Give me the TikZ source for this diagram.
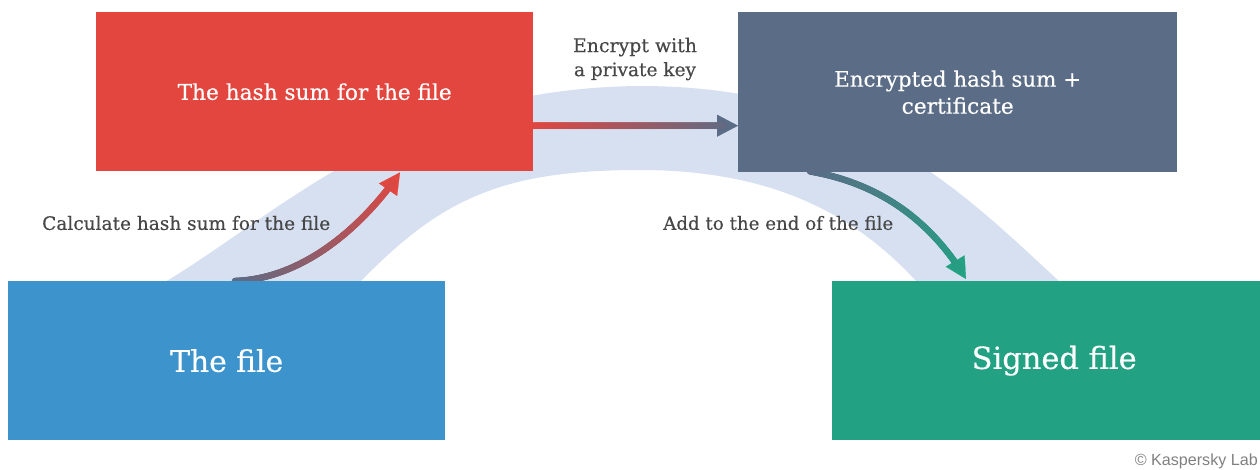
\documentclass[tikz,border=0pt]{standalone}
\usepackage{fontspec}
\setmainfont[FakeBold=0.4]{DejaVu Serif}
\newfontfamily\kfont{Liberation Sans}
\usetikzlibrary{decorations.markings,calc,backgrounds,arrows.meta}
\definecolor{cred}{HTML}{E2463F}
\definecolor{cslate}{HTML}{5B6C86}
\definecolor{cblue}{HTML}{3D94CD}
\definecolor{cgreen}{HTML}{23A183}
\definecolor{cband}{HTML}{D6E0F0}
\definecolor{ctext}{HTML}{474747}
\newcommand{\fitto}[2]{\resizebox{#1}{!}{#2}}
\tikzset{
  box/.style={draw=none, anchor=north west, text=white, inner sep=0pt, align=center},
  lbl/.style={text=ctext, inner sep=0pt, align=center},
  gradarrow/.style n args={2}{draw=#2, line width=0.2pt, -{Triangle[length=21pt,width=22pt]},
    postaction={decorate, decoration={markings,
    mark=between positions 0 and 0.93 step 0.6pt with {
      \pgfmathsetmacro\gpct{(\pgfkeysvalueof{/pgf/decoration/mark info/distance from start})/(\pgfdecoratedpathlength)*100}
      \fill[#2!\gpct!#1] (0,0) circle (3.3pt);
    }
  }}}
}
\begin{document}
\begin{tikzpicture}[x=1pt,y=-1pt]
\useasboundingbox (0,0) rectangle (1260,469);
% boxes
\node[box, fill=cred, minimum width=437pt, minimum height=159pt] (hash) at (96,12)
  {\fitto{274pt}{The hash sum for the file}};
\node[box, fill=cslate, minimum width=439pt, minimum height=160pt, font=\fontsize{20}{27}\selectfont] (enc) at (738,12)
  {\fitto{247pt}{Encrypted hash sum +}\\\fitto{112pt}{certificate}};
\node[box, fill=cblue, minimum width=437pt, minimum height=159pt] (file) at (8,281)
  {\fitto{113pt}{The file}};
\node[box, fill=cgreen, minimum width=428pt, minimum height=159pt] (signed) at (832,281)
  {\hspace*{16pt}\fitto{165pt}{Signed file}};
% labels
\node[lbl, anchor=west] (l1) at (42,223) {\fitto{288pt}{Calculate hash sum for the file}};
\node[lbl, font=\fontsize{15}{24}\selectfont] (l2) at (635,59) {\fitto{124pt}{Encrypt with}\\\fitto{122pt}{a private key}};
\node[lbl, anchor=west] (l3) at (663,223) {\fitto{230pt}{Add to the end of the file}};
\node[anchor=east, text=gray, inner sep=0pt] (copy) at (1258,461) {\kfont\fitto{123pt}{© Kaspersky Lab}};
\begin{pgfonlayer}{background}
  % band
  \fill[cband] (165,282) .. controls (285,210) and (400,88) .. (640,86)
     .. controls (860,86) and (960,190) .. (1060,282)
     -- (917,282) .. controls (860,220) and (780,170) .. (640,170)
     .. controls (500,170) and (440,200) .. (360,282) -- cycle;
  % arrows
  \path[gradarrow={cslate}{cred}] ($(file.north west)+(227,0)$) .. controls +(65,-2) and +(-40,58) .. ($(hash.south west)+(304,1)$);
  \coordinate (a2s) at ($(hash.east)+(0,34)$);
  \path[gradarrow={cred}{cslate}] (a2s) -- (a2s -| enc.west);
  \path[gradarrow={cslate}{cgreen}] ($(enc.south west)+(72,-1)$) .. controls +(70,12) and +(-35,-58) .. ($(signed.north west)+(134,-2)$);
\end{pgfonlayer}
\end{tikzpicture}
\end{document}
